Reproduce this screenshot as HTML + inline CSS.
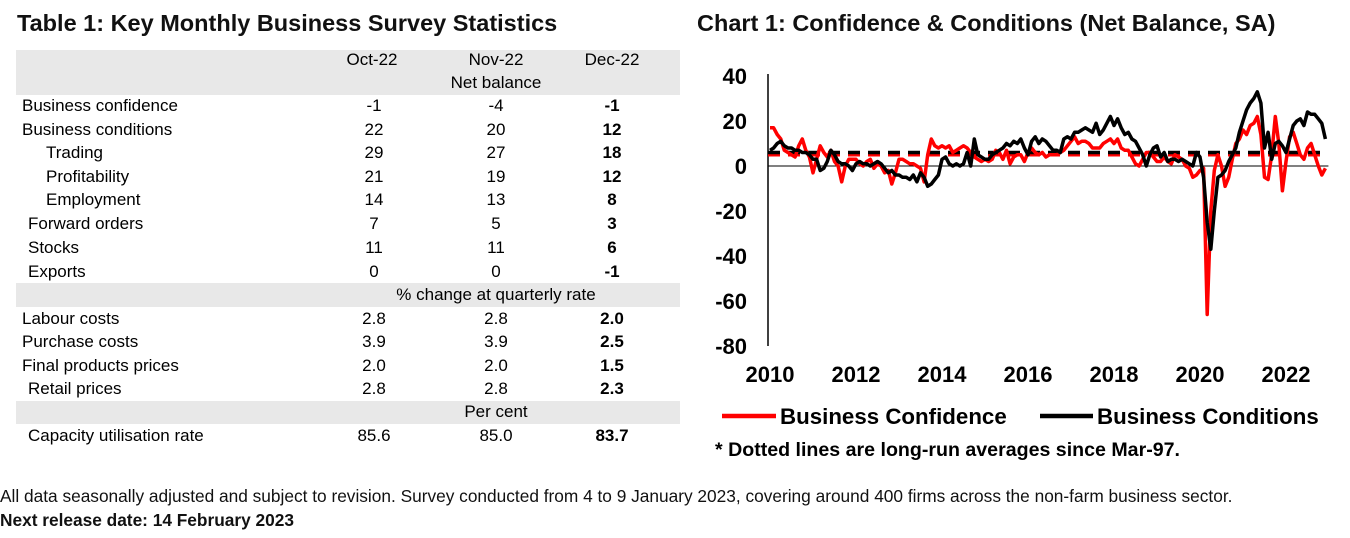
<!DOCTYPE html>
<html><head><meta charset="utf-8"><style>
body{margin:0;width:1350px;height:538px;background:#fff;position:relative;overflow:hidden;font-family:"Liberation Sans",Arial,sans-serif;}
.t{position:absolute;white-space:nowrap;line-height:1;}
.title{font-weight:bold;font-size:23.5px;top:12px;color:#111;}
.band{position:absolute;left:16px;width:664px;background:#e8e8e8;}
.cell{position:absolute;font-size:17px;color:#000;transform:translateY(-50%);white-space:nowrap;}
.c{transform:translate(-50%,-50%);}
.b{font-weight:bold;}
</style></head><body>
<div class="t title" style="left:17px">Table 1: Key Monthly Business Survey Statistics</div>
<div class="t title" style="left:697px">Chart 1: Confidence &amp; Conditions (Net Balance, SA)</div>
<div>
<div class="band" style="top:50px;height:45px"></div>
<div class="band" style="top:283px;height:24px"></div>
<div class="band" style="top:401px;height:23px"></div>
<div id="rows"></div>
</div>
<svg id="chart" width="1350" height="538" style="position:absolute;left:0;top:0"></svg>
<div class="t" style="left:0;top:488px;font-size:17.3px;color:#111">All data seasonally adjusted and subject to revision. Survey conducted from 4 to 9 January 2023, covering around 400 firms across the non-farm business sector.</div>
<div class="t" style="left:0;top:512px;font-size:17.3px;font-weight:bold;color:#111">Next release date: 14 February 2023</div>
<script>
const rowLabels=["Business confidence","Business conditions","Trading","Profitability","Employment","Forward orders","Stocks","Exports","Labour costs","Purchase costs","Final products prices","Retail prices","Capacity utilisation rate"];
const oct=["-1","22","29","21","14","7","11","0","2.8","3.9","2.0","2.8","85.6"];
const nov=["-4","20","27","19","13","5","11","0","2.8","3.9","2.0","2.8","85.0"];
const dec=["-1","12","18","12","8","3","6","-1","2.0","2.5","1.5","2.3","83.7"];
const indent=[22,22,46,46,46,28,28,28,22,22,22,28,28];
const rowY=[106,130,153,177,200,224,248,272,319,342,366,389,436];
const rows=document.getElementById('rows');
function cell(txt,x,y,cls,name){const d=document.createElement('div');d.className='cell '+cls;d.style.left=x+'px';d.style.top=y+'px';d.textContent=txt;


rows.appendChild(d);}
cell('Oct-22',372,60,'c','col-oct-22');cell('Nov-22',496,60,'c','col-nov-22');cell('Dec-22',612,60,'c','col-dec-22');
cell('Net balance',496,83,'c','net-balance-label');cell('% change at quarterly rate',496,295,'c','quarterly-rate-label');cell('Per cent',496,412,'c','per-cent-label');
rowLabels.forEach((l,i)=>{const k=l.toLowerCase().replace(/ /g,'-');cell(l,indent[i],rowY[i],'',k+'-label');cell(oct[i],374,rowY[i],'c',k+'-oct');cell(nov[i],496,rowY[i],'c',k+'-nov');cell(dec[i],612,rowY[i],'c b',k+'-dec');});

// chart data (monthly, Jan 2010 - Dec 2022)
const confidence=[17,17,14,12,7,6,5,4,9,12,7,4, -3,3,9,6,4,7,2,0,-7,0,3,3, 3,1,0,2,3,-1,1,0,-3,-2,-8,-3, 3,3,2,1,1,0,-1,-7,5,12,9,8, 9,8,9,6,7,8,9,8,6,4,3,2, 3,2,3,7,6,3,7,1,4,5,5,2, 6,8,6,5,6,4,5,5,5,6,7,9, 11,13,10,11,11,10,8,8,8,10,11,12, 10,12,8,7,7,4,1,0,3,6,6,4, 2,2,4,2,1,5,4,3,0,-1,-5,-4, -2,-1,-66,-20,-2,5,0,-9,-5,3,10,12, 16,14,18,19,22,14,-5,-6,5,22,10,-11, 2,13,15,10,5,3,8,10,5,0,-4,-1];
const conditions=[7,8,10,11,9,8,8,7,7,6,6,5, 3,3,-2,-1,2,7,5,2,1,1,0,-2, 1,2,1,1,0,1,2,1,-1,-3,-2,-4, -4,-5,-5,-6,-4,-7,-3,-5,-9,-8,-6,-4, 3,4,1,0,1,0,1,6,0,12,5,4, 3,3,5,6,7,8,10,9,11,10,12,8, 5,11,13,10,12,11,9,7,7,6,12,13, 12,15,15,16,17,16,15,19,14,16,19,22, 18,21,17,14,15,12,11,8,5,0,5,8, 9,4,6,2,3,3,2,3,2,1,0,6, 4,-5,-25,-37,-20,-5,-4,-2,2,5,8,15, 20,25,28,30,33,28,8,15,3,10,11,9, 6,12,18,20,21,18,24,23,23,21,19,12];
const confAvg=5, condAvg=6;
const yTicks=[40,20,0,-20,-40,-60,-80];
const xTicks=[2010,2012,2014,2016,2018,2020,2022];
const X=t=>770+(t-2010)*43;
const Y=v=>166-v*2.25;
const svg=document.getElementById('chart');const NS='http://www.w3.org/2000/svg';
function el(tag,attrs,txt){const e=document.createElementNS(NS,tag);for(const k in attrs)e.setAttribute(k,attrs[k]);if(txt!==undefined)e.textContent=txt;svg.appendChild(e);return e;}
let e;
e=el('line',{x1:768,y1:Y(40)-2,x2:768,y2:Y(-80),stroke:'#000','stroke-width':1.5});


e=el('line',{x1:768,y1:Y(0),x2:X(2010+155/12)+3,y2:Y(0),stroke:'#000','stroke-width':1});


yTicks.forEach(v=>{e=el('text',{x:747,y:Y(v)+8,'text-anchor':'end','font-size':22,'font-weight':'bold','font-family':'Liberation Sans, Arial, sans-serif'},String(v));

});
xTicks.forEach(v=>{e=el('text',{x:X(v),y:382,'text-anchor':'middle','font-size':22,'font-weight':'bold','font-family':'Liberation Sans, Arial, sans-serif'},String(v));

});
const xEnd=X(2010+(confidence.length-1)/12);
e=el('line',{x1:768,y1:Y(confAvg),x2:xEnd,y2:Y(confAvg),stroke:'#f00','stroke-width':3.5,'stroke-dasharray':'12,8'});


e=el('line',{x1:768,y1:Y(condAvg),x2:xEnd,y2:Y(condAvg),stroke:'#000','stroke-width':3.5,'stroke-dasharray':'12,8'});


function pts(a){return a.map((v,i)=>X(2010+i/12).toFixed(1)+','+Y(v).toFixed(1)).join(' ');}
e=el('polyline',{points:pts(confidence),fill:'none',stroke:'#f00','stroke-width':3.5,'stroke-linejoin':'round'});


e=el('polyline',{points:pts(conditions),fill:'none',stroke:'#000','stroke-width':3.5,'stroke-linejoin':'round'});


e=el('line',{x1:722,y1:416,x2:776,y2:416,stroke:'#f00','stroke-width':4.5});


e=el('text',{x:780,y:424,'font-size':22.3,'font-weight':'bold','font-family':'Liberation Sans, Arial, sans-serif'},'Business Confidence');


e=el('line',{x1:1040,y1:416,x2:1093,y2:416,stroke:'#000','stroke-width':4.5});


e=el('text',{x:1097,y:424,'font-size':22.3,'font-weight':'bold','font-family':'Liberation Sans, Arial, sans-serif'},'Business Conditions');


e=el('text',{x:715,y:456,'font-size':19.6,'font-weight':'bold','font-family':'Liberation Sans, Arial, sans-serif'},'* Dotted lines are long-run averages since Mar-97.');


</script>
</body></html>
